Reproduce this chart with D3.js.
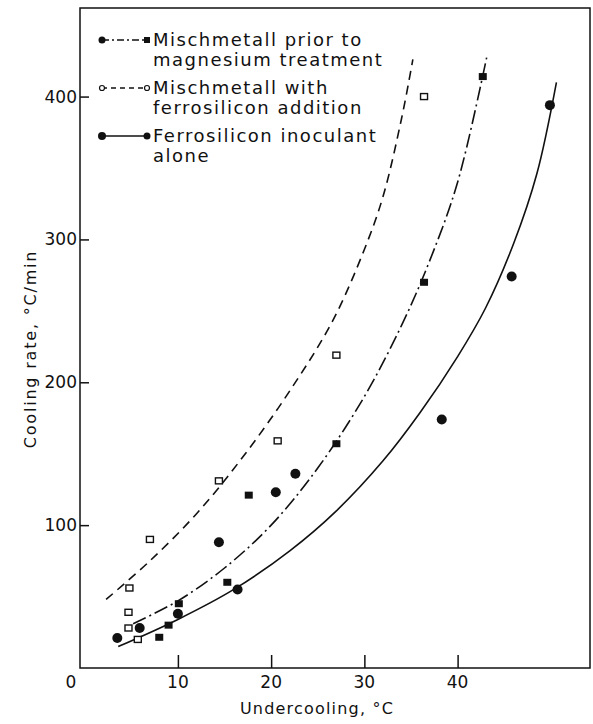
<!DOCTYPE html>
<html>
<head>
<meta charset="utf-8">
<script src="https://cdn.jsdelivr.net/npm/d3@7"></script>
<style>
  html, body { margin: 0; padding: 0; background: #fff; }
  svg { display: block; }
  text { font-family: "DejaVu Sans", sans-serif; fill: #111; }
</style>
</head>
<body>
<script>
// Measured points: undercooling (°C) vs cooling rate (°C/min)
const mischPriorX = [8.0, 9.0, 10.1, 15.3, 17.6, 27.0, 36.4, 42.7];
const mischPriorY = [21.5, 30, 45, 60, 121, 157, 270, 414];

const mischFeSiX = [4.8, 4.7, 4.7, 5.7, 7.0, 14.4, 20.7, 27.0, 36.4];
const mischFeSiY = [56, 39, 28, 20, 90, 131, 159, 219, 400];

const feSiAloneX = [3.5, 5.9, 10.0, 14.4, 16.4, 20.5, 22.6, 38.3, 45.8, 49.9];
const feSiAloneY = [21, 28, 38, 88, 55, 123, 136, 174, 274, 394];

// Fitted trend curves, read along their length
const curvePriorX = [5.2, 10, 15, 20, 25, 30, 34, 37, 40, 43.2];
const curvePriorY = [31, 47, 70, 100, 140, 190, 240, 285, 340, 430];

const curveFeSiX = [2.3, 7, 12, 17, 22, 26.6, 30, 32, 34, 35.2];
const curveFeSiY = [48, 75, 108, 148, 194, 243, 293, 330, 385, 426];

const curveAloneX = [3.6, 10, 16, 22, 27, 32, 36, 40, 43, 46, 48.5, 50.6];
const curveAloneY = [15, 34, 55, 82, 110, 145, 179, 218, 252, 297, 346, 410];

const xTicks = [10, 20, 30, 40];
const yTicks = [100, 200, 300, 400];

const legendLabels = [
  ["Mischmetall prior to", "magnesium treatment"],
  ["Mischmetall with", "ferrosilicon addition"],
  ["Ferrosilicon inoculant", "alone"]
];

const W = 593, H = 724;
const ink = "#111";
const svg = d3.select("body").append("svg").attr("width", W).attr("height", H);

const plotL = 80, plotR = 590, plotT = 8, plotB = 668;
const x = d3.scaleLinear().domain([-0.5, 54.2]).range([plotL, plotR]);
const y = d3.scaleLinear().domain([0, 462]).range([plotB, plotT]);

// Frame
svg.append("rect")
  .attr("x", plotL).attr("y", plotT)
  .attr("width", plotR - plotL).attr("height", plotB - plotT)
  .attr("fill", "none").attr("stroke", ink).attr("stroke-width", 1.5);

// Axes with inward ticks
const xAxis = d3.axisTop(x).tickValues(xTicks).tickSize(13).tickFormat("");
svg.append("g").attr("transform", `translate(0,${plotB})`).call(xAxis)
  .call(g => g.select(".domain").remove())
  .call(g => g.selectAll("line").attr("stroke", ink).attr("stroke-width", 1.5));

const yAxis = d3.axisRight(y).tickValues(yTicks).tickSize(9).tickFormat("");
svg.append("g").attr("transform", `translate(${plotL},0)`).call(yAxis)
  .call(g => g.select(".domain").remove())
  .call(g => g.selectAll("line").attr("stroke", ink).attr("stroke-width", 1.5));

// Tick labels
svg.selectAll(".xl").data(xTicks).enter().append("text")
  .attr("x", d => x(d)).attr("y", 688)
  .attr("text-anchor", "middle").attr("font-size", 17).text(d => d);
svg.selectAll(".yl").data(yTicks).enter().append("text")
  .attr("x", 77).attr("y", d => y(d) + 6)
  .attr("text-anchor", "end").attr("font-size", 17).text(d => d);
svg.append("text").attr("x", 71).attr("y", 688)
  .attr("text-anchor", "middle").attr("font-size", 17).text("0");

// Axis titles
svg.append("text").attr("x", 317).attr("y", 714)
  .attr("text-anchor", "middle").attr("font-size", 16).attr("letter-spacing", 1.2)
  .text("Undercooling, °C");
svg.append("text")
  .attr("transform", "translate(36,349) rotate(-90)")
  .attr("text-anchor", "middle").attr("font-size", 16).attr("letter-spacing", 1.8)
  .text("Cooling rate, °C/min");

// Curves
const line = d3.line().x(d => x(d[0])).y(d => y(d[1])).curve(d3.curveCatmullRom);
const curves = [
  { xs: curvePriorX, ys: curvePriorY, dash: "14,4,2,4" },
  { xs: curveFeSiX, ys: curveFeSiY, dash: "9,6" },
  { xs: curveAloneX, ys: curveAloneY, dash: null }
];
curves.forEach(c => {
  svg.append("path")
    .datum(c.xs.map((v, i) => [v, c.ys[i]]))
    .attr("d", line)
    .attr("fill", "none").attr("stroke", ink).attr("stroke-width", 1.6)
    .attr("stroke-dasharray", c.dash);
});

// Markers
svg.selectAll(".fsq").data(mischPriorX.map((v, i) => [v, mischPriorY[i]])).enter()
  .append("rect")
  .attr("x", d => x(d[0]) - 4).attr("y", d => y(d[1]) - 3.5)
  .attr("width", 8).attr("height", 7).attr("fill", ink);

svg.selectAll(".osq").data(mischFeSiX.map((v, i) => [v, mischFeSiY[i]])).enter()
  .append("rect")
  .attr("x", d => x(d[0]) - 3.5).attr("y", d => y(d[1]) - 3)
  .attr("width", 7).attr("height", 6)
  .attr("fill", "#fff").attr("stroke", ink).attr("stroke-width", 1.4);

svg.selectAll(".fci").data(feSiAloneX.map((v, i) => [v, feSiAloneY[i]])).enter()
  .append("circle")
  .attr("cx", d => x(d[0])).attr("cy", d => y(d[1])).attr("r", 5)
  .attr("fill", ink);

// Legend
const lgX0 = 102, lgX1 = 147, lgText = 153;
const rows = [40, 88, 136];
const styles = [
  { dash: "7,3,2,3", leftM: "dot", rightM: "square" },
  { dash: "5,4", leftM: "open", rightM: "open" },
  { dash: null, leftM: "big", rightM: "dot" }
];
rows.forEach((ry, i) => {
  const s = styles[i];
  svg.append("line").attr("x1", lgX0).attr("x2", lgX1).attr("y1", ry).attr("y2", ry)
    .attr("stroke", ink).attr("stroke-width", 1.4).attr("stroke-dasharray", s.dash);
  [[lgX0, s.leftM], [lgX1, s.rightM]].forEach(([mx, m]) => {
    if (m === "square") {
      svg.append("rect").attr("x", mx - 3).attr("y", ry - 3).attr("width", 6).attr("height", 6).attr("fill", ink);
    } else if (m === "open") {
      svg.append("circle").attr("cx", mx).attr("cy", ry).attr("r", 2.5)
        .attr("fill", "#fff").attr("stroke", ink).attr("stroke-width", 1.2);
    } else if (m === "big") {
      svg.append("circle").attr("cx", mx).attr("cy", ry).attr("r", 4).attr("fill", ink);
    } else {
      svg.append("circle").attr("cx", mx).attr("cy", ry).attr("r", 3.5).attr("fill", ink);
    }
  });
  legendLabels[i].forEach((t, j) => {
    svg.append("text").attr("x", lgText).attr("y", ry + 6 + j * 19.5)
      .attr("font-size", 18).attr("letter-spacing", 1.5).text(t);
  });
});
</script>
</body>
</html>
